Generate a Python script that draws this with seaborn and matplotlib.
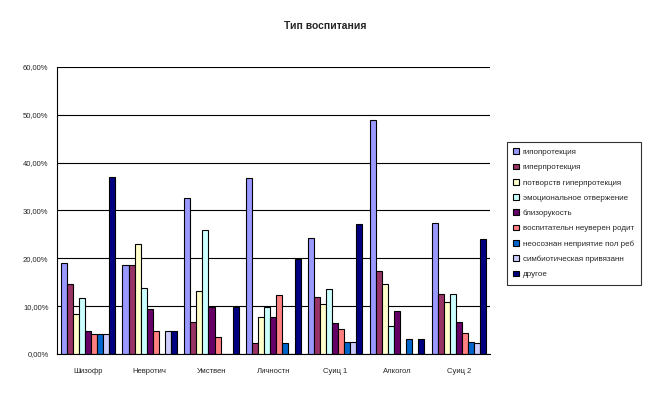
import pandas as pd
import matplotlib
matplotlib.use("Agg")
import matplotlib.pyplot as plt
import seaborn as sns
from matplotlib.ticker import FuncFormatter

# categories (groups on the x axis)
categories = ["Шизофр", "Невротич", "Умствен", "Личностн", "Суиц 1", "Алкогол", "Суиц 2"]

# series names, in legend order
series = [
    "гипопротекция",
    "гиперпротекция",
    "потворств гиперпротекция",
    "эмоциональное отвержение",
    "близорукость",
    "воспитательн неуверен родит",
    "неосознан неприятие пол реб",
    "симбиотическая привязанн",
    "другое",
]

# values in %, one list per series (order of categories)
gipoprotekcia = [19.0, 18.6, 32.6, 36.8, 24.3, 49.0, 27.4]
giperprotekcia = [14.6, 18.6, 6.6, 2.2, 11.9, 17.3, 12.5]
potvorstv = [8.3, 23.0, 13.1, 7.7, 10.4, 14.6, 10.8]
emoc_otverzh = [11.7, 13.8, 25.9, 9.8, 13.6, 5.8, 12.5]
blizorukost = [4.8, 9.4, 9.9, 7.7, 6.4, 8.9, 6.6]
vospit_neuver = [4.1, 4.8, 3.6, 12.3, 5.2, 0.0, 4.3]
neosoznan = [4.1, 0.0, 0.0, 2.2, 2.5, 3.2, 2.5]
simbiot = [4.1, 4.8, 0.0, 0.0, 2.5, 0.0, 2.2]
drugoe = [37.1, 4.8, 9.9, 19.8, 27.2, 3.2, 24.0]

values = [gipoprotekcia, giperprotekcia, potvorstv, emoc_otverzh, blizorukost,
          vospit_neuver, neosoznan, simbiot, drugoe]

colors = ["#9999FF", "#993366", "#FFFFCC", "#CCFFFF", "#660066",
          "#FF8080", "#0066CC", "#CCCCFF", "#000080"]

rows = []
for name, vals in zip(series, values):
    for cat, v in zip(categories, vals):
        rows.append({"cat": cat, "series": name, "value": v})
df = pd.DataFrame(rows)

sns.set_style("white")
plt.rcParams["font.family"] = ["Liberation Sans", "DejaVu Sans"]

fig = plt.figure(figsize=(6.54, 3.94), dpi=100)
ax = fig.add_axes([0.087, 0.1015, 0.662, 0.7285])

sns.barplot(data=df, x="cat", y="value", hue="series", order=categories,
            hue_order=series, palette=colors, saturation=1, width=0.88,
            edgecolor="black", linewidth=0.8, ax=ax, legend=True)

ax.set_ylim(0, 60)
ax.set_yticks(range(0, 61, 10))
ax.yaxis.set_major_formatter(FuncFormatter(lambda v, p: f"{v:.2f}%".replace(".", ",")))
ax.set_xlim(-0.5, len(categories) - 0.5)
ax.set_xticks(range(len(categories)))
ax.set_xticklabels(categories)
ax.set_xticks([i - 0.5 for i in range(len(categories) + 1)], minor=True)
ax.tick_params(axis="x", which="major", length=0, pad=10, labelsize=5.5)
ax.tick_params(axis="x", which="minor", length=3, width=0.8, color="black", direction="out")
ax.tick_params(axis="y", length=3, width=0.8, color="black", direction="out", labelsize=5.5, pad=3)
ax.yaxis.grid(True, color="black", linewidth=0.8)
ax.set_axisbelow(True)
ax.set_xlabel("")
ax.set_ylabel("")
for s in ["top", "right"]:
    ax.spines[s].set_visible(False)
for s in ["left", "bottom"]:
    ax.spines[s].set_color("black")
    ax.spines[s].set_linewidth(0.8)

fig.text(0.497, 0.935, "Тип воспитания", ha="center", va="center",
         fontsize=7.5, fontweight="bold")

handles, labels = ax.get_legend_handles_labels()
ax.get_legend().remove()
leg = fig.legend(handles, labels, loc="upper left", bbox_to_anchor=(0.775, 0.64),
                 fontsize=5.8, frameon=True, fancybox=False, handlelength=0.7,
                 handleheight=0.7, handletextpad=0.5, labelspacing=0.95,
                 borderpad=0.8, borderaxespad=0)
leg.get_frame().set_edgecolor("black")
leg.get_frame().set_linewidth(0.8)

fig.savefig("out.png", dpi=100)
